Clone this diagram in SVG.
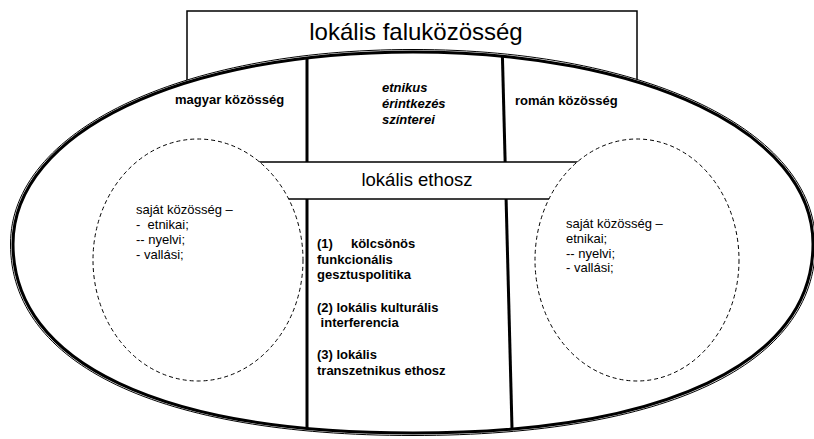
<svg xmlns="http://www.w3.org/2000/svg" width="814" height="439" viewBox="0 0 814 439">
<style>
.t{font-family:"Liberation Sans",Arial,sans-serif;fill:#000}
.b{font-weight:bold;font-size:13px}
.r{font-size:13px}
.dash{fill:#fff;stroke:#000;stroke-width:1;stroke-dasharray:4 3}
.div{stroke:#000;stroke-width:3;fill:none}
</style>
<defs>
<path id="innerPath" d="M413,52 C181,52 13,132.6 13,244 C13,363 161,433 413,433 C665,433 813,363 813,244 C813,132.6 645,52 413,52Z"/>
<clipPath id="inner"><use href="#innerPath"/></clipPath>
</defs>
<rect width="814" height="439" fill="#fff"/>
<g id="title">
<rect x="187" y="11" width="450" height="110" fill="#fff" stroke="#000" stroke-width="1.5"/>
<text class="t" x="416" y="40" font-size="24" text-anchor="middle">lokális faluközösség</text>
</g>
<g id="outer">
<path d="M413,49.5 C179.5,49.5 10.5,131.2 10.5,244 C10.5,364.6 159.4,435.5 413,435.5 C666.6,435.5 815.5,364.6 815.5,244 C815.5,131.2 646.5,49.5 413,49.5Z" fill="#fff" stroke="#000" stroke-width="1"/>
<use href="#innerPath" fill="#fff" stroke="#000" stroke-width="3"/>
</g>
<g id="connectors" clip-path="url(#inner)">
<line class="div" x1="307" y1="40" x2="307" y2="440"/>
<line class="div" x1="502" y1="40" x2="512.3" y2="440"/>
</g>
<g id="magyar"><text class="t b" x="175" y="104">magyar közösség</text></g>
<g id="roman"><text class="t b" x="515" y="105">román közösség</text></g>
<g id="szinterei">
<text class="t b" font-style="italic"><tspan x="382" y="92">etnikus</tspan><tspan x="382" y="108">érintkezés</tspan><tspan x="382" y="124">színterei</tspan></text>
</g>
<g id="ethosz">
<rect x="240" y="162" width="360" height="37" fill="#fff" stroke="#000" stroke-width="1.5"/>
<text class="t" x="417" y="186" font-size="18.5" text-anchor="middle">lokális ethosz</text>
</g>
<g id="left-own">
<ellipse class="dash" cx="198" cy="260" rx="105" ry="121"/>
<text class="t r" xml:space="preserve"><tspan x="136" y="214">saját közösség –</tspan><tspan x="136" y="229">-  etnikai;</tspan><tspan x="136" y="244">-- nyelvi;</tspan><tspan x="136" y="259">- vallási;</tspan></text>
</g>
<g id="right-own">
<ellipse class="dash" cx="637" cy="260" rx="102" ry="121"/>
<text class="t r"><tspan x="566" y="228">saját közösség –</tspan><tspan x="566" y="243">etnikai;</tspan><tspan x="566" y="258">-- nyelvi;</tspan><tspan x="566" y="272">- vallási;</tspan></text>
</g>
<g id="processes">
<text class="t b" xml:space="preserve"><tspan x="317" y="248">(1)     kölcsönös</tspan><tspan x="317" y="264">funkcionális</tspan><tspan x="317" y="279">gesztuspolitika</tspan><tspan x="317" y="312">(2) lokális kulturális</tspan><tspan x="317" y="327"> interferencia</tspan><tspan x="317" y="359">(3) lokális</tspan><tspan x="317" y="375">transzetnikus ethosz</tspan></text>
</g>
</svg>
